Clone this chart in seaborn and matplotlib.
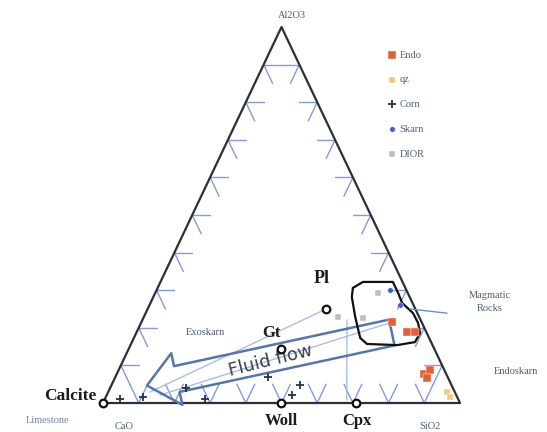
import numpy as np
import pandas as pd
import matplotlib
matplotlib.use("Agg")
import matplotlib.pyplot as plt
import seaborn as sns

# ---- data: ternary fractions (Al2O3, SiO2), CaO is the remainder ----------
ENDO_AL = [0.215, 0.189, 0.189, 0.077, 0.088, 0.066]
ENDO_SI = [0.702, 0.757, 0.779, 0.861, 0.872, 0.875]
QZ_AL = [0.029, 0.016]
QZ_SI = [0.949, 0.964]
CORN_AL = [0.011, 0.016, 0.040, 0.011, 0.069, 0.021, 0.048]
CORN_SI = [0.042, 0.104, 0.212, 0.280, 0.428, 0.519, 0.528]
SKARN_AL = [0.301, 0.261]
SKARN_SI = [0.654, 0.702]
DIOR_AL = [0.293, 0.229, 0.226]
DIOR_SI = [0.624, 0.544, 0.615]

MINERALS = ["Calcite", "Woll", "Cpx", "Pl", "Gt"]
MIN_AL = [0.0, 0.0, 0.0, 0.25, 1 / 7]
MIN_SI = [0.0, 0.5, 0.71, 0.5, 3 / 7]

# outline of the magmatic rocks field
MAG_AL = [0.306, 0.322, 0.322, 0.293, 0.266, 0.239, 0.213, 0.186, 0.162,
          0.154, 0.157, 0.173, 0.229, 0.282, 0.306]
MAG_SI = [0.547, 0.567, 0.651, 0.680, 0.705, 0.749, 0.776, 0.795, 0.793,
          0.747, 0.661, 0.634, 0.592, 0.556, 0.547]

# fluid flow arrow (start, tip) and thin tie lines
FLOW_AL = [0.189, 0.045]
FLOW_SI = [0.722, 0.093]
TIE_AL = [[0.25, 0.029], [0.215, 0.021], [0.221, 0.008]]
TIE_SI = [[0.50, 0.117], [0.702, 0.149], [0.573, 0.679]]
POINTER_AL = [0.25, 0.239]
POINTER_SI = [0.735, 0.844]

GRID = np.arange(1, 10) / 10


def tern(al, si):
    al = np.asarray(al, dtype=float)
    si = np.asarray(si, dtype=float)
    return si + al / 2, al


def px(x, y):
    # figure pixel -> data coords (only used for free text labels)
    return -0.2885 + x / 357, (403 - y) / 376


sns.set_theme(style="white")
plt.rcParams["font.family"] = ["Liberation Serif", "DejaVu Serif"]

fig = plt.figure(figsize=(5.47, 4.32), dpi=100)
ax = fig.add_axes([0, 0, 1, 1])
ax.set_xlim(-0.2885, 1.2437)
ax.set_ylim(-0.0771, 1.0718)
ax.axis("off")

# ----- grid ticks along the edges ------------------------------------------
L = 0.05
tick_kw = dict(color="#8599dc", lw=1.0, zorder=1)
for t in GRID:
    # left edge
    ax.plot([t / 2, t / 2 + L], [t, t], **tick_kw)
    ax.plot([t / 2, t / 2 + L / 2], [t, t - L], **tick_kw)
    # right edge
    ax.plot([1 - t / 2, 1 - t / 2 - L], [t, t], **tick_kw)
    ax.plot([1 - t / 2, 1 - t / 2 - L / 2], [t, t - L], **tick_kw)
    # bottom edge
    ax.plot([t, t - L / 2], [0, L], **tick_kw)
    ax.plot([t, t + L / 2], [0, L], **tick_kw)

# ----- triangle ------------------------------------------------------------
tx, ty = tern([0, 0, 1, 0], [0, 1, 0, 0])
ax.plot(tx, ty, color="#2b2f36", lw=1.6, zorder=3)

# ----- tie lines -----------------------------------------------------------
for al, si in zip(TIE_AL, TIE_SI):
    x, y = tern(al, si)
    ax.plot(x, y, color="#a9bde6", lw=1.0, zorder=2)

# ----- fluid flow arrow ----------------------------------------------------
fx, fy = tern(FLOW_AL, FLOW_SI)
ax.annotate("", xy=(fx[1], fy[1]), xytext=(fx[0], fy[0]),
            arrowprops=dict(arrowstyle="simple,head_width=1.9,head_length=1.1,tail_width=0.95",
                            mutation_scale=20, fc="none", ec="#5577a8", lw=1.8),
            zorder=4)
cx, cy = px(271, 361)
ax.text(cx, cy, "Fluid flow", rotation=14, ha="center", va="center",
        fontsize=13, color="#3a3f48", family=["DejaVu Sans"], zorder=5)

# ----- magmatic field ------------------------------------------------------
mx, my = tern(MAG_AL, MAG_SI)
ax.plot(mx, my, color="#111111", lw=1.6, zorder=5)
px_, py_ = tern(POINTER_AL, POINTER_SI)
ax.plot(px_, py_, color="#6e8fb8", lw=1.0, zorder=5)

# ----- samples -------------------------------------------------------------
groups = [
    ("Endo", ENDO_AL, ENDO_SI, "s", "#e0603a", 28),
    ("qz", QZ_AL, QZ_SI, "s", "#f3c77c", 22),
    ("Corn", CORN_AL, CORN_SI, "+", "#26324a", 40),
    ("Skarn", SKARN_AL, SKARN_SI, "o", "#4a5fc8", 16),
    ("DIOR", DIOR_AL, DIOR_SI, "s", "#b9bccb", 24),
]
for name, al, si, mk, col, size in groups:
    x, y = tern(al, si)
    df = pd.DataFrame({"x": x, "y": y})
    sns.scatterplot(data=df, x="x", y="y", marker=mk, color=col, s=size,
                    linewidth=1.3 if mk == "+" else 0.3, label=name, ax=ax,
                    zorder=6)

leg = ax.legend(loc="upper left", bbox_to_anchor=(0.704, 0.893), frameon=False,
                fontsize=7.5, handlelength=0.6, handletextpad=0.4,
                labelspacing=1.48, borderaxespad=0, labelcolor="#50607a")

# ----- end-member minerals -------------------------------------------------
mnx, mny = tern(MIN_AL, MIN_SI)
sns.scatterplot(x=mnx, y=mny, marker="o", s=30, facecolor="white",
                edgecolor="#111111", linewidth=1.6, ax=ax, zorder=7, legend=False)
label_pos = {
    "Calcite": ((-5, 5), "right", 12.5),
    "Woll": ((0, -13), "center", 12),
    "Cpx": ((0, -13), "center", 12),
    "Pl": ((-3, 22), "center", 13),
    "Gt": ((-7, 12), "center", 12),
}
for name, x, y in zip(MINERALS, mnx, mny):
    off, ha, fs = label_pos[name]
    ax.annotate(name, (x, y), xytext=off, textcoords="offset points",
                ha=ha, va="center", fontsize=fs, fontweight="bold",
                color="#1c1c1c", zorder=8)

# ----- other text ----------------------------------------------------------
small = dict(fontsize=7.5, color="#4f5d70", ha="center", va="center")
ax.text(*px(292, 16), "Al2O3", **small)
ax.text(*px(124, 426), "CaO", **small)
ax.text(*px(430, 426), "SiO2", **small)
ax.text(*px(48, 420), "Limestone", **dict(small, color="#6f86b0"))
ax.text(*px(205, 332), "Exoskarn", **small)
ax.text(*px(490, 302), "Magmatic\nRocks", linespacing=1.6, **small)
ax.text(*px(516, 371), "Endoskarn", **small)

fig.savefig("out.png", dpi=100)
